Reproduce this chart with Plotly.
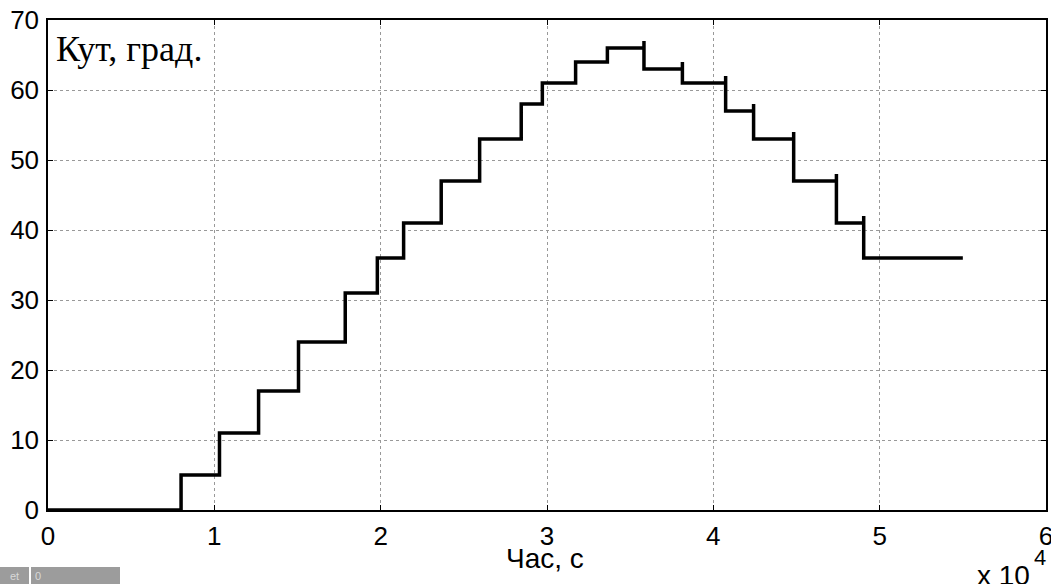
import plotly.graph_objects as go

# ---- data ----
t_start = 0
t_end = 55000
step_times = [8000, 10310, 12660, 15060, 17870, 19800, 21380, 23640, 25950, 28450,
              29720, 31720, 33630, 35830, 38140, 40740, 42420, 44830, 47400, 49040]
levels = [0, 5, 11, 17, 24, 31, 36, 41, 47, 53, 58, 61, 64, 66, 63, 61, 57, 53, 47, 41, 36]
spike_peaks = [None] * 13 + [67, 64, 62, 58, 54, 48, 42]

x_tickvals = [0, 10000, 20000, 30000, 40000, 50000, 60000]
x_ticktext = ["0", "1", "2", "3", "4", "5", "6"]
y_tickvals = [0, 10, 20, 30, 40, 50, 60, 70]

# ---- build the step path ----
xs, ys = [t_start], [levels[0]]
for i, t in enumerate(step_times):
    xs.append(t); ys.append(levels[i])
    if spike_peaks[i] is not None:
        xs.append(t); ys.append(spike_peaks[i])
    xs.append(t); ys.append(levels[i + 1])
xs.append(t_end); ys.append(levels[-1])

W, H = 1051, 584
L, R, T, B = 48, 5, 20, 74
pw, ph = W - L - R, H - T - B

def px(x):
    return (x - L) / pw

def py(y):
    return (H - B - y) / ph

fig = go.Figure()
fig.add_trace(go.Scatter(x=xs, y=ys, mode="lines",
                         line=dict(color="black", width=3.5),
                         hoverinfo="skip", showlegend=False, cliponaxis=False))

tickfont = dict(family="Liberation Sans, Arial, sans-serif", size=26, color="black")
fig.update_layout(
    width=W, height=H,
    margin=dict(l=L, r=R, t=T, b=B, autoexpand=False),
    paper_bgcolor="white", plot_bgcolor="white",
    xaxis=dict(range=[0, 60000], tickvals=x_tickvals, ticktext=x_ticktext,
               showgrid=True, gridcolor="#999999", griddash="dot", gridwidth=1,
               zeroline=False, showline=True, linecolor="black", linewidth=1.5,
               mirror="allticks", ticks="inside", ticklen=5, tickcolor="black",
               tickfont=tickfont, ticklabelstandoff=2, automargin=False,
               ticklabeloverflow="allow"),
    yaxis=dict(range=[0, 70], tickvals=y_tickvals,
               showgrid=True, gridcolor="#999999", griddash="dot", gridwidth=1,
               zeroline=False, showline=True, linecolor="black", linewidth=1.5,
               mirror="allticks", ticks="inside", ticklen=5, tickcolor="black",
               tickfont=tickfont, ticklabelstandoff=2, automargin=False,
               ticklabeloverflow="allow"),
)

fig.add_annotation(text="Кут, град.", xref="paper", yref="paper",
                   x=px(54), y=py(27), xanchor="left", yanchor="top", showarrow=False,
                   font=dict(family="Liberation Serif, Times New Roman, serif", size=36, color="black"))
fig.add_annotation(text="Час, с", xref="paper", yref="paper",
                   x=px(545), y=py(541), xanchor="center", yanchor="top", showarrow=False,
                   font=dict(family="Liberation Sans, Arial, sans-serif", size=28, color="black"))
fig.add_annotation(text="x 10", xref="paper", yref="paper",
                   x=px(1032), y=py(558), xanchor="right", yanchor="top", showarrow=False,
                   font=dict(family="Liberation Sans, Arial, sans-serif", size=28, color="black"))
fig.add_annotation(text="4", xref="paper", yref="paper",
                   x=px(1032), y=py(543), xanchor="left", yanchor="top", showarrow=False,
                   font=dict(family="Liberation Sans, Arial, sans-serif", size=22, color="black"))

# grey strip artifact bottom-left
fig.add_shape(type="rect", xref="paper", yref="paper", x0=px(0), x1=px(29), y0=py(584), y1=py(567),
              fillcolor="#9c9c9c", line=dict(width=0), layer="above")
fig.add_shape(type="rect", xref="paper", yref="paper", x0=px(31), x1=px(120), y0=py(584), y1=py(567),
              fillcolor="#9c9c9c", line=dict(width=0), layer="above")
fig.add_annotation(text="et", xref="paper", yref="paper", x=px(8), y=py(575.5), xanchor="left",
                   yanchor="middle", showarrow=False,
                   font=dict(family="Liberation Sans, Arial", size=11, color="#d8d8d8"))
fig.add_annotation(text="0", xref="paper", yref="paper", x=px(33), y=py(575.5), xanchor="left",
                   yanchor="middle", showarrow=False,
                   font=dict(family="Liberation Sans, Arial", size=11, color="#d8d8d8"))

fig.write_html("out.html", config={"displayModeBar": False},
               post_script="document.body.style.margin='0';document.body.style.overflow='hidden';")
